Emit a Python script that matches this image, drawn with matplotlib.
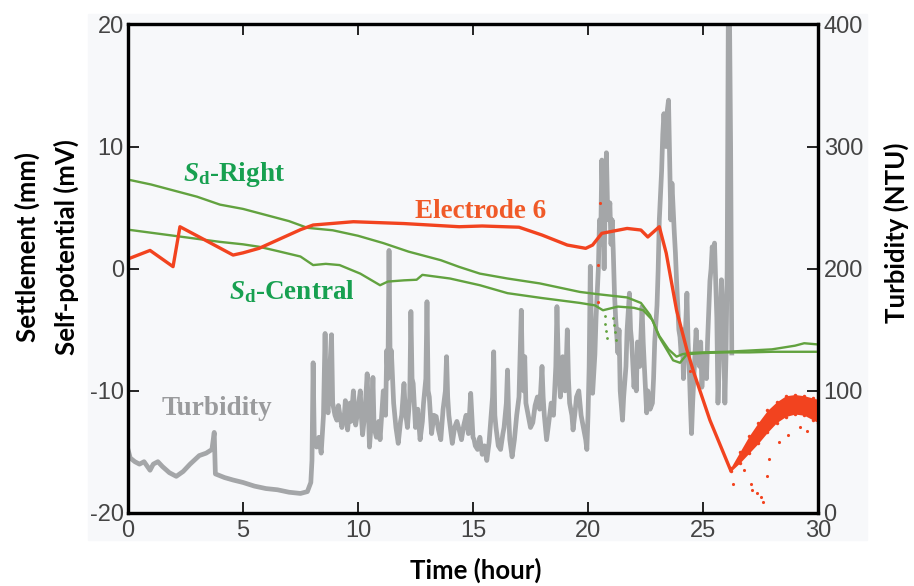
import numpy as np
import matplotlib.pyplot as plt
from matplotlib.patches import Rectangle

plt.rcParams['mathtext.fontset'] = 'custom'
plt.rcParams['mathtext.it'] = 'Liberation Serif:italic:bold'
plt.rcParams['mathtext.rm'] = 'Liberation Serif:bold'
plt.rcParams['axes.unicode_minus'] = False

# Settlement of the right side (mm)
right_t = [0, 1, 2, 3, 4, 5, 6, 7, 7.8, 8.9, 10, 11.1, 12.2, 13.6, 14.4, 15.3,
           16.5, 17.9, 19.65, 20.5, 21.7, 22.3, 22.7, 23.1, 23.5, 23.85, 24.1,
           24.4, 25, 26, 27, 28, 29, 29.4, 30]
right_v = [7.3, 6.9, 6.4, 5.9, 5.25, 4.9, 4.4, 3.9, 3.35, 3.15, 2.7, 2.1, 1.4,
           0.7, 0.15, -0.4, -0.8, -1.2, -1.9, -2.1, -2.35, -2.8, -3.8, -5.5,
           -6.6, -7.2, -7.0, -6.9, -6.85, -6.8, -6.7, -6.6, -6.3, -6.1, -6.2]

# Settlement of the central part (mm)
central_t = [0, 1, 2, 3, 4, 5, 5.7, 6.5, 7.5, 8.05, 8.6, 9.2, 10.1, 10.96, 11.3,
             12.0, 12.55, 12.8, 14.0, 15.3, 16.5, 18.0, 19.65, 20.3, 20.65,
             21.3, 22.0, 22.4, 22.8, 23.1, 23.7, 24.0, 24.3, 25, 26, 27, 28,
             29, 30]
central_v = [3.2, 2.95, 2.7, 2.45, 2.2, 2.0, 1.8, 1.45, 1.0, 0.3, 0.4, 0.3,
             -0.4, -1.35, -1.05, -0.95, -0.9, -0.5, -0.8, -1.35, -2.0, -2.4,
             -2.8, -3.0, -3.4, -3.1, -3.2, -3.4, -4.2, -5.6, -7.5, -7.7, -7.0,
             -6.9, -6.85, -6.85, -6.8, -6.8, -6.8]
central_dots_t = [20.72, 20.76, 20.8, 20.84, 21.08, 21.12, 21.16, 21.2]
central_dots_v = [-3.9, -4.5, -5.1, -5.7, -4.0, -4.6, -5.2, -5.8]

# Self-potential of electrode 6 (mV)
elec_t = [0, 0.96, 1.96, 2.26, 3.1, 4.57, 5.0, 5.7, 6.5, 7.5, 8.05, 9.8, 12,
          14.4, 15.4, 17.0, 18.0, 19.1, 19.9, 20.2, 20.6, 21.7, 22.3, 22.6,
          23.1, 23.4, 23.85, 24.3, 24.6, 25.3, 26.2]
elec_v = [0.8, 1.5, 0.17, 3.44, 2.6, 1.12, 1.3, 1.67, 2.35, 3.2, 3.58, 3.85,
          3.7, 3.44, 3.5, 3.4, 2.76, 1.94, 1.67, 1.94, 2.9, 3.3, 3.17, 2.6,
          3.44, 1.28, -3.4, -6.65, -8.5, -12.4, -16.5]
# scattered recovery band after the minimum
band_t = [26.2, 26.6, 27.0, 27.4, 27.8, 28.2, 28.6, 29.0, 29.4, 29.8, 30.0]
band_hi = [-16.3, -15.0, -13.7, -12.6, -11.6, -10.9, -10.4, -10.3, -10.4,
           -10.6, -10.7]
band_lo = [-16.6, -15.9, -15.1, -14.3, -13.4, -12.6, -12.1, -11.9, -12.0,
           -12.4, -12.6]
elec_dots_t = [20.5, 20.45, 20.45, 26.3, 26.8, 27.1, 27.15, 27.35, 27.5, 27.6,
               27.8, 27.85, 28.3, 28.7, 29.2, 29.5, 24.45]
elec_dots_v = [5.4, 0.3, -2.7, -17.6, -16.5, -17.6, -18.1, -18.4, -18.7,
               -19.1, -17.0, -15.6, -14.2, -13.6, -13.0, -13.3, -8.4]

# Turbidity (NTU)
turb_t = [0.0, 0.1, 0.3, 0.5, 0.7, 0.96, 1.1, 1.3, 1.5, 1.8, 2.1, 2.4, 2.7,
          3.1, 3.4, 3.65, 3.75, 3.8, 4.2, 4.57, 5.0, 5.5, 6.0, 6.5, 7.0, 7.5,
          7.8,
          7.95, 8.0, 8.05, 8.1, 8.2, 8.3, 8.4, 8.5, 8.57, 8.62, 8.7, 8.78,
          8.85, 8.9, 9.0,
          9.08, 9.15, 9.2, 9.3, 9.4, 9.45, 9.55, 9.65, 9.7, 9.8, 9.9, 10.0,
          10.1, 10.15, 10.2, 10.3, 10.4, 10.5, 10.6, 10.65, 10.7, 10.8, 10.9,
          10.96,
          11.05, 11.1, 11.2, 11.25, 11.3, 11.35, 11.4, 11.45, 11.55, 11.65,
          11.75, 11.85, 11.9,
          12.0, 12.05, 12.15, 12.25, 12.3, 12.35, 12.4, 12.5, 12.6, 12.7, 12.8,
          12.85, 12.95, 13.0,
          13.05, 13.1, 13.2, 13.3, 13.4, 13.5, 13.6, 13.7, 13.8, 13.85, 13.9,
          13.95,
          14.05, 14.1, 14.2, 14.3, 14.4, 14.5, 14.6, 14.7, 14.8, 14.9, 15.0,
          15.05, 15.1, 15.2, 15.3, 15.4, 15.5, 15.6, 15.7, 15.75, 15.85, 15.9,
          15.95,
          16.0, 16.1, 16.2, 16.3, 16.35, 16.45, 16.5, 16.55, 16.6, 16.7, 16.8,
          16.9, 17.0,
          17.1, 17.15, 17.2, 17.25, 17.3, 17.4, 17.5, 17.6, 17.7, 17.8, 17.9,
          18.0,
          18.05, 18.1, 18.2, 18.3, 18.4, 18.5, 18.6, 18.65, 18.7, 18.75, 18.8,
          18.9, 19.0,
          19.05, 19.1, 19.15, 19.2, 19.3, 19.35, 19.45, 19.5, 19.6, 19.7, 19.8,
          19.9, 19.95,
          20.0, 20.05, 20.1, 20.15, 20.2, 20.3, 20.35, 20.45, 20.5, 20.55, 20.6,
          20.65, 20.7, 20.75, 20.8, 20.85, 20.9, 20.95,
          21.0, 21.05, 21.1, 21.15, 21.2, 21.3, 21.35, 21.4, 21.5, 21.55, 21.65,
          21.7, 21.8, 21.85, 21.9, 22.0,
          22.05, 22.1, 22.15, 22.25, 22.35, 22.4, 22.45, 22.55, 22.6, 22.7,
          22.8, 22.85, 22.9, 23.0,
          23.05, 23.1, 23.2, 23.25, 23.3, 23.35, 23.4, 23.45, 23.5, 23.55, 23.6,
          23.65, 23.7, 23.75, 23.8, 23.85, 23.9, 23.95, 24.0,
          24.05, 24.1, 24.15, 24.2, 24.3, 24.35, 24.4, 24.45, 24.5, 24.55, 24.6,
          24.7, 24.75, 24.85, 24.9, 24.95,
          25.0, 25.1, 25.15, 25.2, 25.3, 25.35, 25.4, 25.45, 25.5, 25.55, 25.6,
          25.65, 25.7, 25.8, 25.85, 25.9, 25.95, 26.0, 26.05, 26.1, 26.15,
          26.2, 26.25]
turb_v = [52, 45, 42, 40, 42, 35, 40, 42, 38, 33, 30, 34, 40, 47, 49, 52, 66,
          32, 29, 27, 25, 22, 20, 19, 17, 16, 17.5,
          25, 43, 123, 60, 54, 62, 49, 80, 147, 90, 82, 120, 146, 90, 80,
          76, 88, 82, 70, 78, 92, 68, 90, 75, 100, 72, 85,
          100, 78, 64, 82, 114, 54, 80, 111, 70, 62, 75, 60,
          85, 100, 80, 133, 110, 215, 120, 133, 90, 70, 57, 75, 80,
          106, 85, 70, 95, 165, 110, 106, 70, 85, 60, 75, 90, 110, 173,
          100, 95, 65, 80, 79, 68, 60, 85, 100, 128, 95, 80,
          65, 57, 70, 75, 68, 60, 72, 80, 65, 98, 62,
          60, 55, 52, 62, 48, 55, 43, 58, 70, 95, 132, 80,
          70, 55, 52, 65, 70, 90, 117, 80, 60, 46, 60, 80, 95,
          166, 110, 100, 128, 90, 80, 70, 74, 88, 95, 85, 120,
          95, 80, 60, 75, 90, 80, 120, 169, 130, 110, 95, 128, 100,
          120, 150, 110, 90, 80, 68, 85, 95, 100, 80, 70, 60, 52,
          80, 120, 202, 150, 98, 130, 160, 200, 240, 220, 289, 250, 200, 260,
          295, 250, 240, 254,
          220, 240, 213, 180, 160, 131, 150, 100, 76, 95, 120, 150, 180, 150,
          140, 103,
          120, 100, 140, 120, 169, 140, 120, 82, 100, 85, 90, 110, 140, 170,
          199, 240, 280, 310, 327, 310, 300, 330, 338, 290, 240, 270, 250, 230,
          213, 190, 170, 150, 144,
          130, 150, 110, 130, 180, 140, 120, 90, 65, 90, 110, 150, 130, 120,
          140, 103,
          120, 130, 110, 142, 190, 200, 218, 205, 221, 190, 160, 90, 120, 191,
          170, 140, 90, 130, 200, 410, 410, 300, 131]

x_ticks = [0, 5, 10, 15, 20, 25, 30]
left_ticks = [-20, -10, 0, 10, 20]
right_ticks = [0, 100, 200, 300, 400]

GREEN = '#62a23f'
RED = '#f2431f'
GREY = '#a4a6a8'
TICK_FONT = {'family': 'Liberation Sans', 'size': 17, 'color': '#444444'}
LABEL_FONT = {'family': 'Lato', 'weight': 'bold', 'size': 18.5,
              'color': 'black'}

fig = plt.figure(figsize=(9.14, 5.86), dpi=100)
fig.patches.append(Rectangle((88 / 914, 46 / 586), 779 / 914, 526 / 586,
                             transform=fig.transFigure, color='#f7f8fa',
                             zorder=-5))
ax = fig.add_axes([0.140, 0.1246, 0.755, 0.8336])
ax2 = ax.twinx()
ax.set_zorder(ax2.get_zorder() + 1)
ax.patch.set_visible(False)
ax2.patch.set_facecolor('#fcfdfe')

# turbidity on the right-hand scale, behind everything
ax2.plot(turb_t, turb_v, color=GREY, lw=3.4)

# settlement and self-potential on the left scale
ax.plot(right_t, right_v, color=GREEN, lw=1.7)
ax.plot(central_t, central_v, color=GREEN, lw=1.7)
ax.scatter(central_dots_t, central_dots_v, s=4, color=GREEN, lw=0)
ax.plot(elec_t, elec_v, color=RED, lw=2.4)
ax.fill_between(band_t, band_lo, band_hi, color=RED, lw=0)
ax.plot(band_t + band_t, band_hi + band_lo, ls='none', marker='o', ms=2.5,
        mew=0, color=RED)
ax.scatter(elec_dots_t, elec_dots_v, s=5, color=RED, lw=0)

ax.set_xlim(0, 30)
ax.set_ylim(-20, 20)
ax2.set_ylim(0, 400)
ax.set_xticks(x_ticks)
ax.set_yticks(left_ticks)
ax2.set_yticks(right_ticks)

for a in (ax, ax2):
    for s in a.spines.values():
        s.set_linewidth(2.3)
ax.tick_params(axis='x', direction='in', length=8, width=1.2, top=True,
               pad=5)
ax.tick_params(axis='y', direction='in', length=8, width=1.2, pad=3)
ax2.tick_params(axis='y', direction='in', length=8, width=1.2, pad=4)
for lab in ax.get_xticklabels() + ax.get_yticklabels() + ax2.get_yticklabels():
    lab.set_fontfamily(TICK_FONT['family'])
    lab.set_fontsize(TICK_FONT['size'])
    lab.set_color(TICK_FONT['color'])

# axis titles
fig.text(27 / 914, 0.578, 'Settlement (mm)', rotation=90, ha='center',
         va='center', **LABEL_FONT)
fig.text(66 / 914, 0.578, 'Self-potential (mV)', rotation=90, ha='center',
         va='center', **LABEL_FONT)
fig.text(0.52, 0.026, 'Time (hour)', ha='center', va='center', **LABEL_FONT)
fig.text(0.981, 0.602, 'Turbidity (NTU)', rotation=90, ha='center',
         va='center', **LABEL_FONT)

# series labels
serif = {'family': 'Liberation Serif', 'weight': 'bold', 'size': 19.5}
ax.text(2.39, 7.18, r'$S_{\rm d}$-Right', color='#17a050', va='baseline',
        **serif)
ax.text(4.39, -2.48, r'$S_{\rm d}$-Central', color='#17a050', va='baseline',
        **serif)
ax.text(12.48, 4.15, 'Electrode 6', color='#f05a28', va='baseline', **serif)
ax.text(1.48, -11.98, 'Turbidity', color='#9a9b9d', va='baseline', **serif)

fig.savefig('out.png', dpi=100)
